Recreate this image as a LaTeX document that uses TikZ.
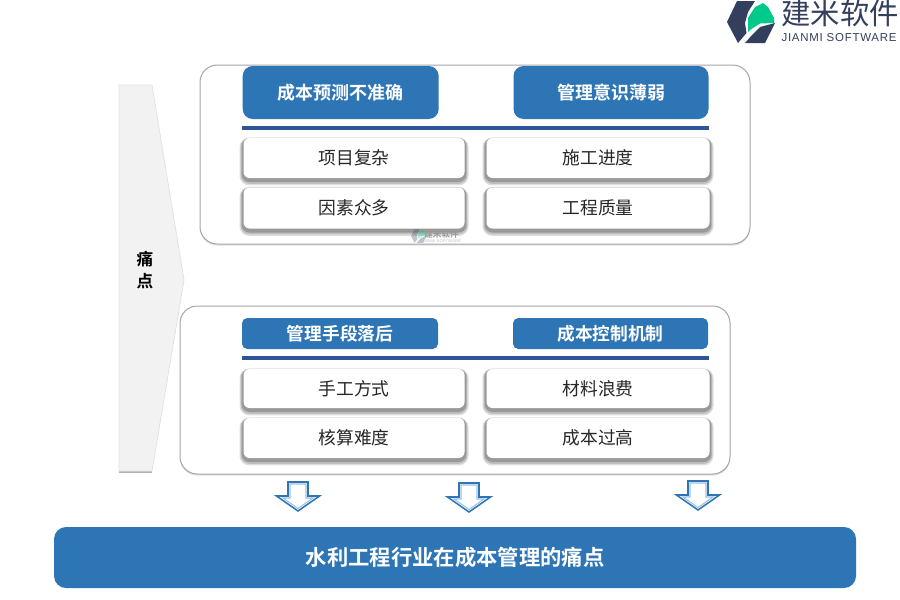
\documentclass[tikz,border=0pt]{standalone}
\usepackage{fontspec}
\setmainfont{Noto Sans CJK SC}[BoldFont={Noto Sans CJK SC Bold}]
\newfontfamily\latinlogo{Liberation Sans}[LetterSpace=6.4]
\usetikzlibrary{shadows}
\definecolor{brandblue}{HTML}{2E75B6}
\definecolor{rulecol}{HTML}{2F5597}
\definecolor{logodark}{HTML}{333F5C}
\definecolor{logogreen}{HTML}{00C98A}
\definecolor{lightarrow}{HTML}{9DC3E6}
\definecolor{txtdark}{HTML}{262626}
\tikzset{
  x=0.75pt,y=-0.75pt,
  boxsize/.style 2 args={minimum width=#1*0.75pt,minimum height=#2*0.75pt,inner sep=0pt,outer sep=0pt},
  panel/.style={draw=black!35,line width=0.75pt,fill=white,rounded corners=13pt,
    general shadow={fill=black!12,shadow xshift=0pt,shadow yshift=-1.2pt}},
  header/.style={fill=brandblue,rounded corners=7.5pt,text=white,font=\bfseries\fontsize{13.5}{16}\selectfont},
  headersm/.style={fill=brandblue,rounded corners=4pt,text=white,font=\bfseries\fontsize{13.3}{16}\selectfont},
  card/.style={fill=white,rounded corners=4.5pt,text=txtdark,font=\fontsize{13.3}{16}\selectfont,
    general shadow={fill=black!13,draw=black!13,line width=6pt,shadow xshift=0pt,shadow yshift=-2.6pt},
    general shadow={fill=black!25,draw=black!25,line width=4.4pt,shadow xshift=0pt,shadow yshift=-2.2pt},
    general shadow={fill=black!40,draw=black!40,line width=2.8pt,shadow xshift=0pt,shadow yshift=-1.6pt}},
  rulel/.style={draw=rulecol,line width=2.6pt},
  blockarrow/.pic={
    \path[fill=white,draw=brandblue,line width=1.15pt,line join=miter]
      (-10,-29)--(10,-29)--(10,-15)--(21.5,-15)--(0,0)--(-21.5,-15)--(-10,-15)--cycle;
    \path[draw=lightarrow,line width=0.8pt]
      (-8,-27)--(8,-27)--(8,-13)--(15,-13)--(0,-2.5)--(-15,-13)--(-8,-13)--cycle;
  },
  logomark/.pic={
    \fill[logodark] (737,1)--(755,1)--(748,12)--(745,23)--(746.5,33)--(738,43)--(727,22)--cycle;
    \fill[logodark] (745,43)--(765,43)--(775,23)--(760,27)--(752,35)--cycle;
    \fill[logogreen] (748,32)--(748,18)--(755,7)--(763,3)--(768,7)--(774,18)--(774,23)--(760,23.5)--(750,30)--cycle;
  }
}
\begin{document}
\begin{tikzpicture}
\useasboundingbox (0,0) rectangle (900,600);
\fill[white] (0,0) rectangle (900,600);
% logo
\pic (logo) at (0,0) {logomark};
\node[text=logodark,font=\fontsize{22}{24}\selectfont,inner sep=0pt] (logotxt) at (840,13) {建米软件};
\node[text=logodark,font=\latinlogo\fontsize{8.6}{10}\selectfont,inner sep=0pt] (logosub) at (839,38) {JIANMI SOFTWARE};
% pain arrow
\fill[black!30] (119,88)--(152,88)--(152,473)--(119,473)--cycle;
\path[fill=black!5,draw=black!12,line width=0.5pt] (119,85)--(152,85)--(184,280)--(152,471)--(119,471)--cycle;
\node[font=\bfseries\fontsize{12.5}{16.5}\selectfont,align=center,text=black,inner sep=0pt] (pain) at (145,270) {痛\\点};
% panels
\node[panel,boxsize={550}{179}] (top) at (475,154.5) {};
\node[panel,boxsize={550}{168}] (bot) at (455,390) {};
% top group
\node[header,boxsize={196}{53}] (h1) at (340.7,92.5) {成本预测不准确};
\node[header,boxsize={195}{53}] (h2) at (611,92.5) {管理意识薄弱};
\coordinate (r1a) at (242,128); \coordinate (r1b) at (709,128);
\draw[rulel] (r1a)--(r1b);
\node[card,boxsize={221}{40}] (c1) at (354,158) {项目复杂};
\node[card,boxsize={223}{40}] (c2) at (598,158) {施工进度};
\node[card,boxsize={221}{41}] (c3) at (354,208) {因素众多};
\node[card,boxsize={223}{41}] (c4) at (598,208) {工程质量};
% watermark
\begin{scope}[shift={(411,229)},scale=0.32,shift={(-727,0)}]
\pic[transform shape,opacity=0.3] (wm) at (0,0) {logomark};
\end{scope}
\node[text=black!40,font=\bfseries\fontsize{6.4}{7}\selectfont,inner sep=0pt] (wmtxt) at (441.5,234.5) {建米软件};
\node[text=black!25,font=\latinlogo\fontsize{3}{3}\selectfont,inner sep=0pt] (wmsub) at (441,241.5) {JIANMI SOFTWARE};
% bottom group
\node[headersm,boxsize={196}{31}] (h3) at (340,333.5) {管理手段落后};
\node[headersm,boxsize={195}{31}] (h4) at (610.5,333.5) {成本控制机制};
\coordinate (r2a) at (242,358); \coordinate (r2b) at (709,358);
\draw[rulel] (r2a)--(r2b);
\node[card,boxsize={221}{39}] (c5) at (354,388.5) {手工方式};
\node[card,boxsize={223}{39}] (c6) at (598,388.5) {材料浪费};
\node[card,boxsize={221}{40}] (c7) at (354,438) {核算难度};
\node[card,boxsize={223}{40}] (c8) at (598,438) {成本过高};
% arrows
\pic (a1) at (298,511) {blockarrow};
\pic (a2) at (469,512) {blockarrow};
\pic (a3) at (698,510) {blockarrow};
% footer
\node[fill=brandblue,rounded corners=9pt,text=white,font=\bfseries\fontsize{16}{20}\selectfont,boxsize={802}{61}] (foot) at (455,557.5) {水利工程行业在成本管理的痛点};
\end{tikzpicture}
\end{document}
